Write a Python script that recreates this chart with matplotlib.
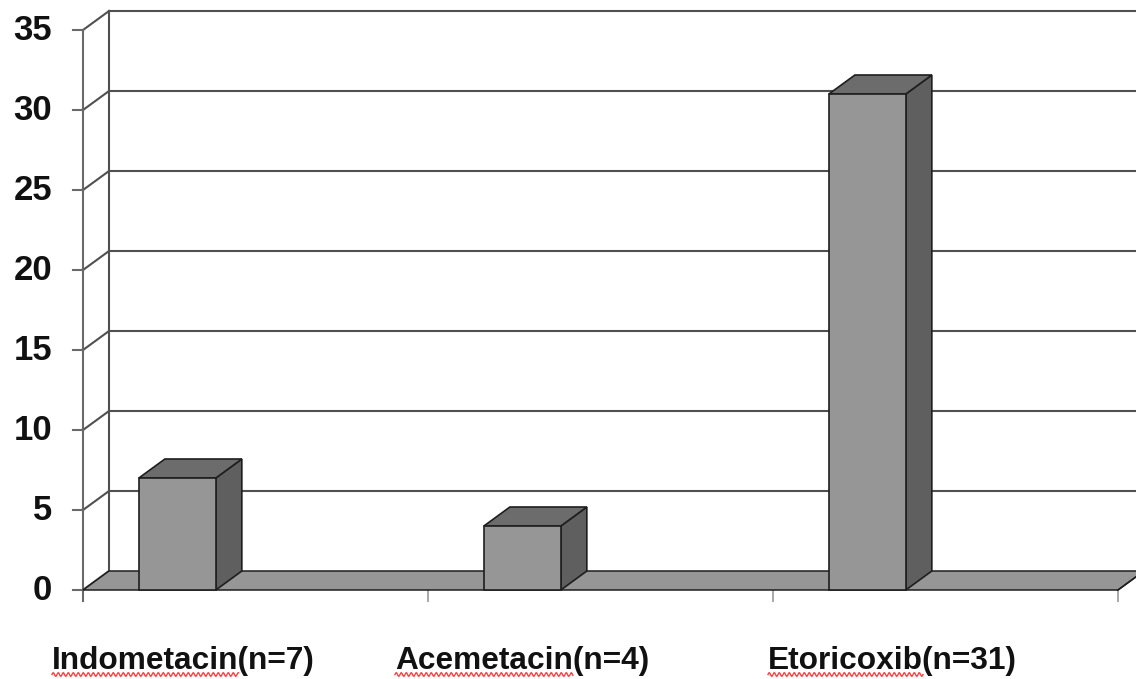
import matplotlib.pyplot as plt
import numpy as np
from matplotlib.patches import Polygon, Rectangle


DRUGS = ["Indometacin", "Acemetacin", "Etoricoxib"]
COUNTS = [7, 4, 31]
Y_TICKS = [0, 5, 10, 15, 20, 25, 30, 35]

# pseudo-3D depth offset, in data units (x: categories, y: value)
DX = 26 / 345
DY = 19 / 16

FRONT = "#969696"
TOP = "#6c6c6c"
SIDE = "#5f5f5f"
EDGE = "#1e1e1e"
GRID = "#505050"


def main():
    plt.rcParams["font.family"] = ["Liberation Sans", "DejaVu Sans"]
    fig = plt.figure(figsize=(11.36, 6.79), dpi=100)
    ax = fig.add_axes([0, 0, 1, 1])
    ax.set_xlim(-83 / 345, (1136 - 83) / 345)
    ax.set_ylim(-89 / 16, (679 - 89) / 16)
    ax.axis("off")

    n = len(DRUGS)
    x_right = ax.get_xlim()[1]

    # back wall gridlines
    for v in Y_TICKS[1:]:
        ax.plot([DX, x_right], [v + DY, v + DY], color=GRID, lw=1.5, zorder=1)
    # side wall: front and back verticals with diagonals at each tick
    ax.plot([DX, DX], [DY, Y_TICKS[-1] + DY], color=GRID, lw=1.5, zorder=1)
    ax.plot([0, 0], [-0.7, Y_TICKS[-1]], color="#6a6a6a", lw=1.5, zorder=1)
    for v in Y_TICKS:
        ax.plot([0, DX], [v, v + DY], color=GRID, lw=1.5, zorder=1)
        ax.plot([-10 / 345, 0], [v, v], color="#6a6a6a", lw=1.5, zorder=1)
        ax.text(-31 / 345, v - 0.05, str(v), ha="right", va="center",
                fontsize=25, fontweight="bold", color="#111111")

    # floor
    floor = Polygon([(0, 0), (n, 0), (n + DX, DY), (x_right + 1, DY),
                     (x_right + 1, DY), (DX, DY)],
                    closed=True, facecolor=FRONT, edgecolor=EDGE, lw=1.1, zorder=2)
    ax.add_patch(floor)
    ax.plot([n, n + DX * 2], [0, DY * 2], color=EDGE, lw=1.1, zorder=2)
    for i in range(1, n + 1):
        ax.plot([i, i], [0, -0.7], color="#a8a8a8", lw=1.4, zorder=1)

    # bars
    for i, v in enumerate(COUNTS):
        left = i + 0.162
        right = left + 0.223
        ax.add_patch(Polygon([(right, 0), (right + DX, DY), (right + DX, v + DY), (right, v)],
                             facecolor=SIDE, edgecolor=EDGE, lw=1.2, zorder=3))
        ax.add_patch(Polygon([(left, v), (right, v), (right + DX, v + DY), (left + DX, v + DY)],
                             facecolor=TOP, edgecolor=EDGE, lw=1.2, zorder=3))
        ax.add_patch(Rectangle((left, 0), right - left, v,
                               facecolor=FRONT, edgecolor=EDGE, lw=1.2, zorder=4))

    # category labels with spell-check squiggle under the drug name
    label_x = [-31 / 345, 312 / 345, 685 / 345]
    label_y = -79 / 16
    renderer = fig.canvas.get_renderer()
    to_data = ax.transData.inverted()
    for x, drug, count in zip(label_x, DRUGS, COUNTS):
        ax.text(x, label_y, f"{drug}(n={count})", ha="left", va="baseline",
                fontsize=22.8, fontweight="bold", color="#111111")
        probe = ax.text(x, label_y, drug, ha="left", va="baseline",
                        fontsize=22.8, fontweight="bold")
        bb = probe.get_window_extent(renderer)
        probe.remove()
        x0 = to_data.transform((bb.x0, 0))[0]
        x1 = to_data.transform((bb.x1, 0))[0]
        xs = np.linspace(x0, x1, 400)
        ys = label_y - 5.5 / 16 + 1.8 / 16 * np.sin((xs - x0) * 345 * 2 * np.pi / 5)
        ax.plot(xs, ys, color="#ff4040", lw=1.0, zorder=5)

    fig.savefig("out.png", dpi=100, facecolor="white")


if __name__ == "__main__":
    main()
